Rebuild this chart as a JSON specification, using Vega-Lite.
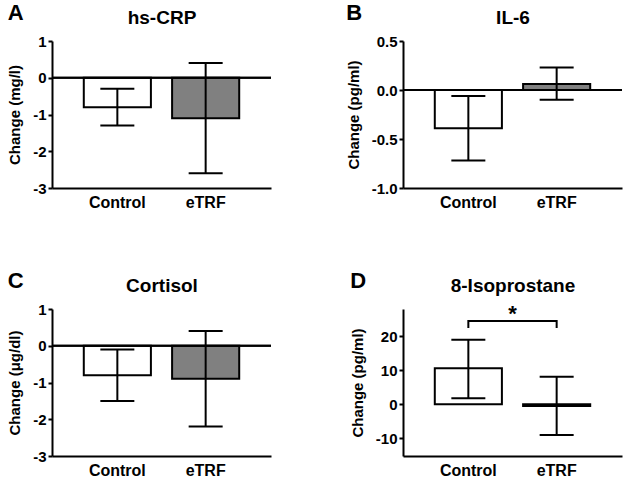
{
  "$schema": "https://vega.github.io/schema/vega-lite/v6.json",
  "autosize": {"type": "pad"},
  "padding": {"left": 7, "top": 2, "right": 0, "bottom": 0},
  "background": "white",
  "bounds": "flush",
  "columns": 2,
  "spacing": {"row": 121, "column": 132},
  "config": {
    "font": "Liberation Sans",
    "view": {"stroke": null},
    "axis": {"grid": false},
    "title": {"fontSize": 22, "fontWeight": "bold", "anchor": "start", "frame": "bounds", "color": "black"},
    "axisY": {
      "tickSize": 4, "tickWidth": 2, "tickColor": "black", "tickCount": 10,
      "domainWidth": 2, "domainColor": "black",
      "labelFontSize": 15, "labelFontWeight": "bold", "labelColor": "black", "labelPadding": 2, "labelOverlap": false,
      "titleFontSize": 15, "titleFontWeight": "bold", "titleColor": "black", "titlePadding": 10,
      "labelExpr": "replace(datum.label, '\u2212', '-')"
    },
    "axisX": {
      "ticks": false, "labelAngle": 0, "labelFontSize": 16, "labelFontWeight": "bold", "labelColor": "black",
      "labelPadding": 6, "domainWidth": 2, "domainColor": "black",
      "titleFontSize": 19, "titleFontWeight": "bold", "titleColor": "black"
    }
  },
  "concat": [
    {
      "title": {"text": "A", "dy": 21},
      "width": 219, "height": 147,
      "data": {"values": [
        {"group": "Control", "mean": -0.8, "lo": -1.3, "hi": -0.3},
        {"group": "eTRF", "mean": -1.1, "lo": -2.6, "hi": 0.4}
      ]},
      "layer": [
        {"mark": {"type": "bar", "stroke": "black", "strokeWidth": 2},
         "encoding": {
           "x": {"field": "group", "type": "nominal", "sort": null, "scale": {"paddingInner": 0.24, "paddingOuter": 0.36}, "axis": {"orient": "bottom", "title": null}},
           "y": {"field": "mean", "type": "quantitative", "scale": {"domain": [-3, 1], "nice": false, "zero": false}, "axis": {"title": "Change (mg/l)", "values": [-3, -2, -1, 0, 1], "format": "d", "tickCount": 10}},
           "fill": {"field": "group", "type": "nominal", "scale": {"domain": ["Control", "eTRF"], "range": ["white", "#808080"]}, "legend": null}
         }},
        {"mark": {"type": "rule", "strokeWidth": 2, "color": "black"},
         "encoding": {
           "x": {"field": "group", "type": "nominal", "sort": null, "axis": {"orient": "top", "title": "hs-CRP", "labels": false, "ticks": false, "domain": false, "titlePadding": 14}},
           "y": {"field": "lo", "type": "quantitative", "title": "Change (mg/l)"},
           "y2": {"field": "hi"}
         }},
        {"mark": {"type": "tick", "size": 34, "thickness": 2, "color": "black", "opacity": 1},
         "encoding": {"x": {"field": "group", "type": "nominal", "sort": null, "axis": null}, "y": {"field": "lo", "type": "quantitative", "title": "Change (mg/l)"}}},
        {"mark": {"type": "tick", "size": 34, "thickness": 2, "color": "black", "opacity": 1},
         "encoding": {"x": {"field": "group", "type": "nominal", "sort": null, "axis": null}, "y": {"field": "hi", "type": "quantitative", "title": "Change (mg/l)"}}},
        {"mark": {"type": "rule", "strokeWidth": 2, "color": "black"},
         "encoding": {"y": {"datum": 0}}}
      ],
      "resolve": {"axis": {"x": "independent"}}
    },
    {
      "title": {"text": "B", "dy": 21},
      "width": 219, "height": 147,
      "data": {"values": [
        {"group": "Control", "mean": -0.39, "lo": -0.72, "hi": -0.06},
        {"group": "eTRF", "mean": 0.06, "lo": -0.1, "hi": 0.23}
      ]},
      "layer": [
        {"mark": {"type": "bar", "stroke": "black", "strokeWidth": 2},
         "encoding": {
           "x": {"field": "group", "type": "nominal", "sort": null, "scale": {"paddingInner": 0.24, "paddingOuter": 0.36}, "axis": {"orient": "bottom", "title": null}},
           "y": {"field": "mean", "type": "quantitative", "scale": {"domain": [-1, 0.5], "nice": false, "zero": false}, "axis": {"title": "Change (pg/ml)", "values": [-1, -0.5, 0, 0.5], "format": ".1f", "tickCount": 10}},
           "fill": {"field": "group", "type": "nominal", "scale": {"domain": ["Control", "eTRF"], "range": ["white", "#808080"]}, "legend": null}
         }},
        {"mark": {"type": "rule", "strokeWidth": 2, "color": "black"},
         "encoding": {
           "x": {"field": "group", "type": "nominal", "sort": null, "axis": {"orient": "top", "title": "IL-6", "labels": false, "ticks": false, "domain": false, "titlePadding": 14}},
           "y": {"field": "lo", "type": "quantitative", "title": "Change (pg/ml)"},
           "y2": {"field": "hi"}
         }},
        {"mark": {"type": "tick", "size": 34, "thickness": 2, "color": "black", "opacity": 1},
         "encoding": {"x": {"field": "group", "type": "nominal", "sort": null, "axis": null}, "y": {"field": "lo", "type": "quantitative", "title": "Change (pg/ml)"}}},
        {"mark": {"type": "tick", "size": 34, "thickness": 2, "color": "black", "opacity": 1},
         "encoding": {"x": {"field": "group", "type": "nominal", "sort": null, "axis": null}, "y": {"field": "hi", "type": "quantitative", "title": "Change (pg/ml)"}}},
        {"mark": {"type": "rule", "strokeWidth": 2, "color": "black"},
         "encoding": {"y": {"datum": 0}}}
      ],
      "resolve": {"axis": {"x": "independent"}}
    },
    {
      "title": {"text": "C", "dy": 21},
      "width": 219, "height": 147,
      "data": {"values": [
        {"group": "Control", "mean": -0.8, "lo": -1.5, "hi": -0.1},
        {"group": "eTRF", "mean": -0.9, "lo": -2.2, "hi": 0.4}
      ]},
      "layer": [
        {"mark": {"type": "bar", "stroke": "black", "strokeWidth": 2},
         "encoding": {
           "x": {"field": "group", "type": "nominal", "sort": null, "scale": {"paddingInner": 0.24, "paddingOuter": 0.36}, "axis": {"orient": "bottom", "title": null}},
           "y": {"field": "mean", "type": "quantitative", "scale": {"domain": [-3, 1], "nice": false, "zero": false}, "axis": {"title": "Change (μg/dl)", "values": [-3, -2, -1, 0, 1], "format": "d", "tickCount": 10}},
           "fill": {"field": "group", "type": "nominal", "scale": {"domain": ["Control", "eTRF"], "range": ["white", "#808080"]}, "legend": null}
         }},
        {"mark": {"type": "rule", "strokeWidth": 2, "color": "black"},
         "encoding": {
           "x": {"field": "group", "type": "nominal", "sort": null, "axis": {"orient": "top", "title": "Cortisol", "labels": false, "ticks": false, "domain": false, "titlePadding": 14}},
           "y": {"field": "lo", "type": "quantitative", "title": "Change (μg/dl)"},
           "y2": {"field": "hi"}
         }},
        {"mark": {"type": "tick", "size": 34, "thickness": 2, "color": "black", "opacity": 1},
         "encoding": {"x": {"field": "group", "type": "nominal", "sort": null, "axis": null}, "y": {"field": "lo", "type": "quantitative", "title": "Change (μg/dl)"}}},
        {"mark": {"type": "tick", "size": 34, "thickness": 2, "color": "black", "opacity": 1},
         "encoding": {"x": {"field": "group", "type": "nominal", "sort": null, "axis": null}, "y": {"field": "hi", "type": "quantitative", "title": "Change (μg/dl)"}}},
        {"mark": {"type": "rule", "strokeWidth": 2, "color": "black"},
         "encoding": {"y": {"datum": 0}}}
      ],
      "resolve": {"axis": {"x": "independent"}}
    },
    {
      "title": {"text": "D", "dy": 21},
      "width": 219, "height": 147,
      "layer": [
        {"data": {"values": [
          {"group": "Control", "mean": 10.6, "lo": 1.8, "hi": 19.0},
          {"group": "eTRF", "mean": -0.5, "lo": -9.0, "hi": 8.1}
        ]},
         "layer": [
          {"mark": {"type": "bar", "stroke": "black", "strokeWidth": 2},
           "encoding": {
             "x": {"field": "group", "type": "nominal", "sort": null, "scale": {"paddingInner": 0.24, "paddingOuter": 0.36}, "axis": {"orient": "bottom", "title": null}},
             "y": {"field": "mean", "type": "quantitative", "scale": {"domain": [-15.2, 28], "nice": false, "zero": false}, "axis": {"title": "Change (pg/ml)", "values": [-10, 0, 10, 20], "format": "d", "tickCount": 10}},
             "fill": {"field": "group", "type": "nominal", "scale": {"domain": ["Control", "eTRF"], "range": ["white", "#808080"]}, "legend": null}
           }},
          {"mark": {"type": "rule", "strokeWidth": 2, "color": "black"},
           "encoding": {
             "x": {"field": "group", "type": "nominal", "sort": null, "axis": {"orient": "top", "title": "8-Isoprostane", "labels": false, "ticks": false, "domain": false, "titlePadding": 14}},
             "y": {"field": "lo", "type": "quantitative", "title": "Change (pg/ml)"},
             "y2": {"field": "hi"}
           }},
          {"mark": {"type": "tick", "size": 34, "thickness": 2, "color": "black", "opacity": 1},
           "encoding": {"x": {"field": "group", "type": "nominal", "sort": null, "axis": null}, "y": {"field": "lo", "type": "quantitative", "title": "Change (pg/ml)"}}},
          {"mark": {"type": "tick", "size": 34, "thickness": 2, "color": "black", "opacity": 1},
           "encoding": {"x": {"field": "group", "type": "nominal", "sort": null, "axis": null}, "y": {"field": "hi", "type": "quantitative", "title": "Change (pg/ml)"}}}
         ]},
        {"data": {"values": [
          {"group": "Control", "v": 22.4, "o": 1},
          {"group": "Control", "v": 24.5, "o": 2},
          {"group": "eTRF", "v": 24.5, "o": 3},
          {"group": "eTRF", "v": 22.4, "o": 4}
        ]},
         "mark": {"type": "line", "strokeWidth": 2, "color": "black"},
         "encoding": {
           "x": {"field": "group", "type": "nominal", "sort": null, "axis": null},
           "y": {"field": "v", "type": "quantitative", "title": "Change (pg/ml)"},
           "order": {"field": "o"}
         }},
        {"data": {"values": [{"label": "*", "v": 24.6}]},
         "mark": {"type": "text", "fontSize": 22, "fontWeight": "bold", "baseline": "alphabetic", "color": "black"},
         "encoding": {
           "y": {"field": "v", "type": "quantitative", "title": "Change (pg/ml)"},
           "text": {"field": "label"}
         }},
        {"mark": {"type": "rule", "strokeWidth": 2, "color": "black"},
         "encoding": {"y": {"datum": 0}}}
      ],
      "resolve": {"axis": {"x": "independent"}}
    }
  ]
}
